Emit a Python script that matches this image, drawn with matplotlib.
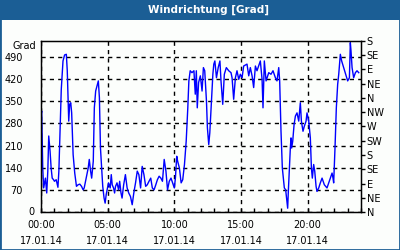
import matplotlib
matplotlib.use("Agg")
import matplotlib.pyplot as plt
from matplotlib.patches import Rectangle

# time of day in hours, wind direction in "Grad"
hours = [0.00, 0.05, 0.13, 0.20, 0.33, 0.43, 0.51, 0.58, 0.68, 0.76, 0.84, 0.94,
         1.01, 1.14, 1.27, 1.34, 1.44, 1.52, 1.65, 1.77, 1.90, 1.97, 2.08, 2.15,
         2.23, 2.30, 2.41, 2.53, 2.66, 2.78, 2.91, 3.04, 3.16, 3.24, 3.34, 3.42,
         3.54, 3.62, 3.72, 3.80, 3.92, 4.00, 4.10, 4.23, 4.30, 4.38, 4.46, 4.56,
         4.63, 4.73, 4.81, 4.89, 4.99, 5.06, 5.19, 5.27, 5.34, 5.44, 5.52, 5.59,
         5.70, 5.82, 5.90, 6.00, 6.08, 6.20, 6.33, 6.46, 6.58, 6.71, 6.84, 6.96,
         7.09, 7.22, 7.34, 7.47, 7.59, 7.72, 7.85, 7.97, 8.10, 8.23, 8.35, 8.48,
         8.61, 8.73, 8.86, 8.99, 9.11, 9.24, 9.37, 9.49, 9.62, 9.75, 9.87, 10.00,
         10.08, 10.18, 10.25, 10.38, 10.51, 10.63, 10.76, 10.89, 11.01, 11.09, 11.19, 11.32,
         11.47, 11.57, 11.65, 11.72, 11.82, 11.95, 12.08, 12.18, 12.28, 12.41, 12.48, 12.58,
         12.66, 12.78, 12.89, 12.96, 13.04, 13.16, 13.29, 13.42, 13.50, 13.63, 13.75, 13.90,
         14.08, 14.25, 14.33, 14.45, 14.58, 14.70, 14.83, 14.95, 15.08, 15.20, 15.45, 15.58,
         15.70, 15.83, 15.95, 16.08, 16.20, 16.45, 16.58, 16.65, 16.75, 16.88, 17.08, 17.25,
         17.40, 17.58, 17.70, 17.83, 17.90, 17.95, 18.00, 18.10, 18.25, 18.35, 18.45, 18.50,
         18.55, 18.63, 18.70, 18.75, 18.80, 18.88, 18.98, 19.08, 19.20, 19.33, 19.45, 19.53,
         19.65, 19.75, 19.88, 19.95, 20.08, 20.20, 20.28, 20.35, 20.45, 20.53, 20.63, 20.70,
         20.83, 20.95, 21.08, 21.25, 21.45, 21.70, 21.83, 21.90, 21.95, 22.05, 22.15, 22.25,
         22.33, 22.45, 22.55, 22.70, 22.85, 23.00, 23.13, 23.20, 23.25, 23.33, 23.45, 23.58,
         23.70, 23.83]
grad = [303, 319, 139, 76, 107, 60, 129, 240, 192, 139, 107, 102,
        97, 102, 78, 129, 276, 387, 477, 496, 498, 446, 287, 340,
        345, 313, 181, 123, 81, 86, 88, 81, 70, 76, 97, 113,
        139, 166, 129, 107, 160, 329, 382, 403, 414, 361, 202, 129,
        81, 44, 28, 55, 76, 92, 76, 118, 86, 76, 60, 81,
        92, 70, 97, 60, 44, 86, 118, 76, 60, 49, 23, 60,
        92, 129, 118, 76, 144, 118, 81, 86, 97, 107, 76, 70,
        86, 102, 113, 107, 97, 166, 129, 70, 97, 107, 92, 76,
        107, 176, 160, 139, 92, 102, 150, 224, 329, 414, 446, 440,
        446, 372, 446, 329, 409, 430, 382, 456, 446, 350, 266, 213,
        250, 350, 435, 467, 477, 424, 456, 477, 414, 340, 435, 456,
        446, 440, 424, 356, 424, 446, 419, 435, 424, 461, 467, 430,
        456, 430, 393, 461, 446, 477, 419, 329, 477, 414, 440, 435,
        446, 424, 414, 456, 414, 329, 255, 139, 76, 70, 33, 12,
        65, 139, 202, 234, 202, 224, 276, 303, 313, 287, 345, 287,
        255, 271, 287, 313, 287, 234, 139, 107, 150, 129, 81, 65,
        76, 92, 107, 86, 76, 107, 123, 107, 92, 202, 329, 403,
        435, 498, 477, 456, 435, 414, 424, 535, 509, 456, 424, 440,
        446, 440]

left_ticks = [0, 70, 140, 210, 280, 350, 420, 490]
compass = ["N", "NE", "E", "SE", "S", "SW", "W", "NW", "N", "NE", "E", "SE", "S"]
compass_pos = [i * 45 for i in range(len(compass))]
x_major = [0, 5, 10, 15, 20]
x_labels = ["00:00\n17.01.14", "05:00\n17.01.14", "10:00\n17.01.14",
            "15:00\n17.01.14", "20:00\n17.01.14"]
title = "Windrichtung [Grad]"

W, H = 400, 250
blue = "#1b5e95"
fs = 7

fig = plt.figure(figsize=(W / 100, H / 100), dpi=100)
fig.patch.set_facecolor("#fcfefc")

# title bar and frame
fig.patches.append(Rectangle((0, 1 - 20 / H), 1, 20 / H, transform=fig.transFigure,
                             facecolor=blue, edgecolor="none", zorder=0))
fig.patches.append(Rectangle((0, 0), 1, 1, transform=fig.transFigure,
                             facecolor="none", edgecolor=blue, lw=2, zorder=5))
fig.text(209 / W, 1 - 10 / H, title, color="white", fontsize=7.5, fontweight="bold",
         ha="center", va="center")

# plot area in pixels: x 41..361, y 41..212
ax = fig.add_axes([41 / W, (H - 212) / H, 320 / W, 171 / H])
ax.set_facecolor("#fcfefc")
ax.plot(hours, grad, color="#0000ff", lw=1)
ax.set_xlim(0, 24)
ax.set_ylim(0, 540)

for s in ax.spines.values():
    s.set_linewidth(1)
    s.set_color("black")

ax.set_yticks(left_ticks)
ax.set_yticklabels([""] + [str(v) for v in left_ticks[1:]])
ax.tick_params(axis="y", direction="in", length=0, pad=13, labelsize=fs)
ax.set_xticks(x_major)
ax.set_xticklabels(x_labels, fontsize=fs, linespacing=1.65)
ax.set_xticks(range(25), minor=True)
ax.tick_params(axis="x", which="both", direction="in", length=3, width=1, pad=6)
ax.grid(True, which="major", color="black", lw=1, linestyle=(0, (3, 3)))
ax.text(-0.02, 0, "0", transform=ax.transAxes, ha="right", va="center", fontsize=fs)
ax.text(-0.015, 525, "Grad", transform=ax.get_yaxis_transform(), ha="right",
        va="center", fontsize=fs)

ax2 = ax.twinx()
ax2.set_ylim(0, 540)
ax2.set_yticks(compass_pos)
ax2.set_yticklabels(compass)
ax2.tick_params(axis="y", direction="out", length=3, width=1, pad=1, labelsize=fs)

fig.savefig("out.png", dpi=100, facecolor=fig.get_facecolor())
